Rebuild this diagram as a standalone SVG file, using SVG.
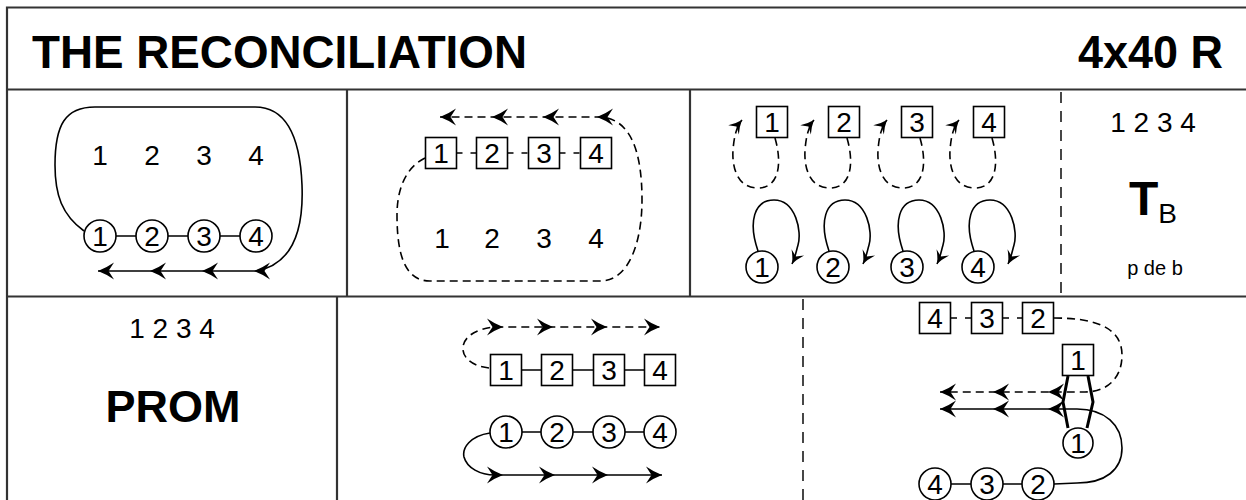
<svg xmlns="http://www.w3.org/2000/svg" width="1246" height="500" viewBox="0 0 1246 500">
<style>
.fr{stroke:#333;stroke-width:2.2;fill:none}
.dv{stroke:#333;stroke-width:1.8;fill:none;stroke-dasharray:11 8}
.ln{stroke:#000;stroke-width:1.6;fill:none}
.ds{stroke:#000;stroke-width:1.6;fill:none;stroke-dasharray:8 5}
.dc{stroke:#000;stroke-width:1.6;fill:none;stroke-dasharray:6 8}
.bd{stroke:#000;stroke-width:3;fill:none;stroke-linejoin:round}
.nd rect,.nd circle{fill:#fff;stroke:#000;stroke-width:1.6}
.ah{fill:#000}
text{font-family:"Liberation Sans",Arial,sans-serif;fill:#000}
.n{font-size:28px;text-anchor:middle}
.t{font-size:28px;text-anchor:middle}
.h{font-size:46px;font-weight:bold}
</style>
<defs>
<path id="al" d="M0,0 Q8,-3 16,-8.5 L10.5,0 L16,8.5 Q8,3 0,0 Z"/>
<marker id="me" viewBox="-14 -8 15 16" refX="0" refY="0" markerWidth="15" markerHeight="16" markerUnits="userSpaceOnUse" orient="auto">
<path d="M0,0 Q-6,-2 -13,-7 L-8.5,0 L-13,7 Q-6,2 0,0 Z" fill="#000"/>
</marker>
</defs>
<rect width="1246" height="500" fill="#fff"/>
<g id="frame">
<path class="fr" d="M7,520 V7.5 H1260 M7,89.5 H1260 M7,296.5 H1260 M347,89.5 V296.5 M690,89.5 V296.5 M337,296.5 V520"/>
<path class="dv" d="M1061,92 V296 M803,299 V500"/>
</g>
<g id="header">
<text class="h" x="32" y="68" textLength="495" lengthAdjust="spacingAndGlyphs">THE RECONCILIATION</text>
<text class="h" x="1078" y="68" textLength="145" lengthAdjust="spacingAndGlyphs">4x40 R</text>
</g>
<g id="connectors">
<!-- panel 1 -->
<path class="ln" d="M116,236 H136 M168,236 H188 M220,236 H240"/>
<path class="ln" d="M84,231 C62,215 55,195 55,165 C55,125 65,107 95,107 L255,107 C285,107 300,135 302,185 C304,235 290,265 256,271 L98,271"/>
<g class="ah"><use href="#al" x="98" y="271"/><use href="#al" x="150" y="271"/><use href="#al" x="202" y="271"/><use href="#al" x="254" y="271"/></g>
<!-- panel 2 -->
<path class="dc" d="M456.5,153 H476.5 M507.5,153 H528.5 M559.5,153 H580.5"/>
<path class="ds" d="M425,158 C405,168 397,190 397,215 C397,255 405,281 430,281 L600,281 C630,281 642,240 642,200 C642,150 630,120 602,117 L440,117"/>
<g class="ah"><use href="#al" x="440" y="117"/><use href="#al" x="492" y="117"/><use href="#al" x="543" y="117"/><use href="#al" x="597" y="117"/></g>
<!-- panel 3 dashed loops -->
<path class="ds" marker-end="url(#me)" d="M775,138 C782,162 780,188 758,188 C736,188 732,165 733,150 C734,138 736,127 742,120"/>
<path class="ds" marker-end="url(#me)" d="M847,138 C854,162 852,188 830,188 C808,188 804,165 805,150 C806,138 808,127 814,120"/>
<path class="ds" marker-end="url(#me)" d="M920,138 C927,162 925,188 903,188 C881,188 877,165 878,150 C879,138 881,127 887,120"/>
<path class="ds" marker-end="url(#me)" d="M992,138 C999,162 997,188 975,188 C953,188 949,165 950,150 C951,138 953,127 959,120"/>
<!-- panel 3 solid loops -->
<path class="ln" marker-end="url(#me)" d="M758,251 C748,222 754,200 774,200 C796,200 802,232 798,245 C796,252 795,258 792,264"/>
<path class="ln" marker-end="url(#me)" d="M829,251 C819,222 825,200 845,200 C867,200 873,232 869,245 C867,252 866,258 863,264"/>
<path class="ln" marker-end="url(#me)" d="M903,251 C893,222 899,200 919,200 C941,200 947,232 943,245 C941,252 940,258 937,264"/>
<path class="ln" marker-end="url(#me)" d="M974,251 C964,222 970,200 990,200 C1012,200 1018,232 1014,245 C1012,252 1011,258 1008,264"/>
<!-- panel 6 -->
<path class="ln" d="M522,370 H541 M573,370 H593 M625,370 H644"/>
<path class="ln" d="M522,432 H541 M573,432 H593 M625,432 H644"/>
<path class="ds" d="M489,368 C470,366 462,356 463,347 C464,336 478,328 495,327 L660,327"/>
<path class="ln" d="M490,433 C470,436 462,448 464,457 C467,468 480,475 495,475 L662,475"/>
<g class="ah">
<use href="#al" transform="translate(503,327) scale(-1,1)"/><use href="#al" transform="translate(553,327) scale(-1,1)"/><use href="#al" transform="translate(607,327) scale(-1,1)"/><use href="#al" transform="translate(660,327) scale(-1,1)"/>
<use href="#al" transform="translate(503,475) scale(-1,1)"/><use href="#al" transform="translate(555,475) scale(-1,1)"/><use href="#al" transform="translate(608,475) scale(-1,1)"/><use href="#al" transform="translate(662,475) scale(-1,1)"/>
</g>
<!-- panel 7 -->
<path class="dc" d="M951,318 H971 M1003,318 H1022"/>
<path class="ds" d="M1054,318 C1090,318 1122,325 1122,355 C1122,380 1105,392 1085,392 L940,392"/>
<path class="ln" d="M940,409 L1077,409 C1105,409 1122,425 1122,448 C1122,470 1105,483 1077,483 L1054,484"/>
<path class="ln" d="M951,484 H971 M1003,484 H1022"/>
<g class="ah"><use href="#al" x="940" y="392"/><use href="#al" x="993" y="392"/><use href="#al" x="1048" y="392"/><use href="#al" x="940" y="409"/><use href="#al" x="993" y="409"/><use href="#al" x="1048" y="409"/></g>
<path class="bd" d="M1068,376 L1063,402 L1068,428 M1088,376 L1093,402 L1087,428"/>
</g>
<!-- panel 1 nodes -->
<g id="p1-labels"><text class="t" x="100" y="165">1</text><text class="t" x="152" y="165">2</text><text class="t" x="204" y="165">3</text><text class="t" x="256" y="165">4</text></g>
<g id="p1-c1" class="nd"><circle cx="100" cy="236" r="16"/><text class="n" x="100" y="246">1</text></g>
<g id="p1-c2" class="nd"><circle cx="152" cy="236" r="16"/><text class="n" x="152" y="246">2</text></g>
<g id="p1-c3" class="nd"><circle cx="204" cy="236" r="16"/><text class="n" x="204" y="246">3</text></g>
<g id="p1-c4" class="nd"><circle cx="256" cy="236" r="16"/><text class="n" x="256" y="246">4</text></g>
<!-- panel 2 nodes -->
<g id="p2-b1" class="nd"><rect x="425.5" y="137.5" width="31" height="31"/><text class="n" x="441" y="163">1</text></g>
<g id="p2-b2" class="nd"><rect x="476.5" y="137.5" width="31" height="31"/><text class="n" x="492" y="163">2</text></g>
<g id="p2-b3" class="nd"><rect x="528.5" y="137.5" width="31" height="31"/><text class="n" x="544" y="163">3</text></g>
<g id="p2-b4" class="nd"><rect x="580.5" y="137.5" width="31" height="31"/><text class="n" x="596" y="163">4</text></g>
<g id="p2-labels"><text class="t" x="442" y="248">1</text><text class="t" x="492" y="248">2</text><text class="t" x="544" y="248">3</text><text class="t" x="596" y="248">4</text></g>
<!-- panel 3 nodes -->
<g id="p3-b1" class="nd"><rect x="756.5" y="106.5" width="31" height="31"/><text class="n" x="772" y="132">1</text></g>
<g id="p3-b2" class="nd"><rect x="828.5" y="106.5" width="31" height="31"/><text class="n" x="844" y="132">2</text></g>
<g id="p3-b3" class="nd"><rect x="901.5" y="106.5" width="31" height="31"/><text class="n" x="917" y="132">3</text></g>
<g id="p3-b4" class="nd"><rect x="973.5" y="106.5" width="31" height="31"/><text class="n" x="989" y="132">4</text></g>
<g id="p3-c1" class="nd"><circle cx="762" cy="267" r="16"/><text class="n" x="762" y="277">1</text></g>
<g id="p3-c2" class="nd"><circle cx="833" cy="267" r="16"/><text class="n" x="833" y="277">2</text></g>
<g id="p3-c3" class="nd"><circle cx="907" cy="267" r="16"/><text class="n" x="907" y="277">3</text></g>
<g id="p3-c4" class="nd"><circle cx="978" cy="267" r="16"/><text class="n" x="978" y="277">4</text></g>
<!-- panel 4 -->
<g id="p4-text">
<text x="1153" y="132" font-size="28" text-anchor="middle">1 2 3 4</text>
<text x="1129" y="215" font-size="48" font-weight="bold">T<tspan font-size="28" font-weight="normal" dy="8">B</tspan></text>
<text x="1155" y="275" font-size="20" text-anchor="middle">p de b</text>
</g>
<!-- panel 5 -->
<g id="p5-text">
<text x="172" y="338" font-size="28" text-anchor="middle">1 2 3 4</text>
<text x="173" y="422" font-size="45" font-weight="bold" text-anchor="middle">PROM</text>
</g>
<!-- panel 6 nodes -->
<g id="p6-b1" class="nd"><rect x="490.5" y="354.5" width="31" height="31"/><text class="n" x="506" y="380">1</text></g>
<g id="p6-b2" class="nd"><rect x="541.5" y="354.5" width="31" height="31"/><text class="n" x="557" y="380">2</text></g>
<g id="p6-b3" class="nd"><rect x="593.5" y="354.5" width="31" height="31"/><text class="n" x="609" y="380">3</text></g>
<g id="p6-b4" class="nd"><rect x="644.5" y="354.5" width="31" height="31"/><text class="n" x="660" y="380">4</text></g>
<g id="p6-c1" class="nd"><circle cx="506" cy="432" r="16"/><text class="n" x="506" y="442">1</text></g>
<g id="p6-c2" class="nd"><circle cx="557" cy="432" r="16"/><text class="n" x="557" y="442">2</text></g>
<g id="p6-c3" class="nd"><circle cx="609" cy="432" r="16"/><text class="n" x="609" y="442">3</text></g>
<g id="p6-c4" class="nd"><circle cx="660" cy="432" r="16"/><text class="n" x="660" y="442">4</text></g>
<!-- panel 7 nodes -->
<g id="p7-b4" class="nd"><rect x="919.5" y="302.5" width="31" height="31"/><text class="n" x="935" y="328">4</text></g>
<g id="p7-b3" class="nd"><rect x="971.5" y="302.5" width="31" height="31"/><text class="n" x="987" y="328">3</text></g>
<g id="p7-b2" class="nd"><rect x="1022.5" y="302.5" width="31" height="31"/><text class="n" x="1038" y="328">2</text></g>
<g id="p7-b1" class="nd"><rect x="1062.5" y="344.5" width="31" height="31"/><text class="n" x="1078" y="370">1</text></g>
<g id="p7-c1" class="nd"><circle cx="1078" cy="443" r="15"/><text class="n" x="1078" y="453">1</text></g>
<g id="p7-c4" class="nd"><circle cx="935" cy="484" r="16"/><text class="n" x="935" y="494">4</text></g>
<g id="p7-c3" class="nd"><circle cx="987" cy="484" r="16"/><text class="n" x="987" y="494">3</text></g>
<g id="p7-c2" class="nd"><circle cx="1038" cy="484" r="16"/><text class="n" x="1038" y="494">2</text></g>
</svg>
